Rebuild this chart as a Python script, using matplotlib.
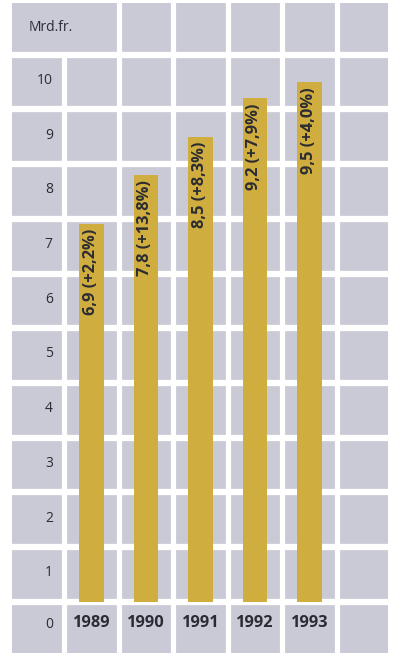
import matplotlib
matplotlib.use("Agg")
import matplotlib.pyplot as plt

# Data
years = ["1989", "1990", "1991", "1992", "1993"]
values = [6.9, 7.8, 8.5, 9.2, 9.5]
value_labels = ["6,9 (+2,2%)", "7,8 (+13,8%)", "8,5 (+8,3%)", "9,2 (+7,9%)", "9,5 (+4,0%)"]
y_ticks = list(range(0, 11))
unit_label = "Mrd.fr."

plt.rcParams["font.family"] = ["Open Sans", "DejaVu Sans"]

W, H = 398, 653
fig = plt.figure(figsize=(W / 100, H / 100), dpi=100)
fig.patch.set_facecolor("white")

cell_grey = "#c9cad6"
bar_color = "#cfad3e"
text_dark = "#2b2b33"

# Axes spans the tiled area; column 0 holds the value scale, columns 1-5 the bars, column 6 is empty
left_px, right_px, top_px = 12, 388, 3
ax = fig.add_axes([left_px / W, 0, (right_px - left_px) / W, (H - top_px) / H])
px_x = 54.5   # pixels per column
px_y = 54.72  # pixels per unit
x0 = (left_px - 37) / px_x
x1 = (right_px - 37) / px_x
y_top = (629.2 - top_px) / px_y
y_bot = (629.2 - H) / px_y
ax.set_xlim(x0, x1)
ax.set_ylim(y_bot, y_top)
ax.set_facecolor(cell_grey)
for s in ax.spines.values():
    s.set_visible(False)
ax.set_xticks([])
ax.set_yticks([])

# White separators between tiles
n_cols = 7
for k in range(0, 11):
    ax.axhline(k + 0.5, color="white", lw=6.3 * 72 / 100, zorder=1)
for i in range(n_cols - 1):
    if i == 0:
        # first separator stops below the unit row
        ymax = (10.5 - y_bot) / (y_top - y_bot)
        ax.axvline(i + 0.5, ymin=0, ymax=ymax, color="white", lw=5.2 * 72 / 100, zorder=1)
    else:
        ax.axvline(i + 0.5, color="white", lw=5.2 * 72 / 100, zorder=1)

# Bars rise from the separator above the zero row
positions = list(range(1, len(years) + 1))
ax.bar(positions, values, bottom=0.5, width=24.5 / px_x, color=bar_color, zorder=2)

for p, v, lab in zip(positions, values, value_labels):
    ax.text(p - 0.01, 0.5 + v - 0.09, lab, rotation=90, ha="center", va="top",
            fontsize=11.8, fontweight="bold", color=text_dark, zorder=3)

for p, yr in zip(positions, years):
    ax.text(p, 0.11, yr, ha="center", va="center", fontsize=11.8,
            fontweight="bold", color=text_dark, zorder=3)

for t in y_ticks:
    ax.text(0.29, t + 0.03 + (0.06 if t == 0 else 0), str(t), ha="right", va="center",
            fontsize=10, color=text_dark, zorder=3)

ax.text(-0.15, 11.0, unit_label, ha="left", va="center", fontsize=10,
        color=text_dark, zorder=3)

fig.savefig("out.png", dpi=100, facecolor="white")
